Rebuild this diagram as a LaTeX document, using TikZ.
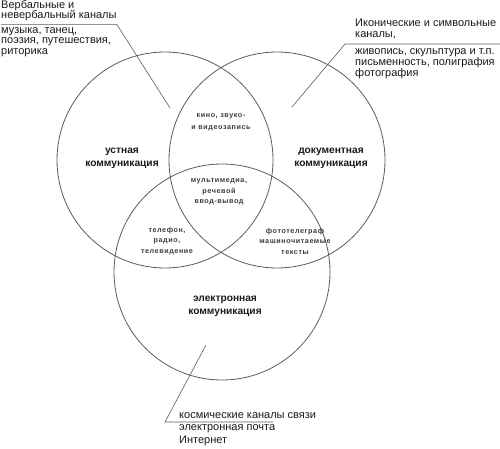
\documentclass[tikz,border=0pt]{standalone}
\usepackage{fontspec}
\setmainfont{Liberation Sans}
\newfontfamily\spacedsans[LetterSpace=8]{Liberation Sans}
\usepackage{xcolor}
\usetikzlibrary{positioning, calc}
\definecolor{ringgray}{HTML}{5C5C5C}
\definecolor{inkdark}{HTML}{1A1A1A}
\tikzset{
  ring/.style={circle, draw=ringgray, line width=0.8pt, minimum size=216pt, inner sep=0pt},
  side/.style={font=\fontsize{11}{10.6}\selectfont, text=inkdark, align=left, inner sep=0pt, anchor=north west},
  zone/.style={font=\fontsize{10.2}{13}\selectfont\bfseries, text=inkdark, align=center, inner sep=0pt},
  cross/.style={font=\spacedsans\fontsize{7.2}{10.5}\selectfont\bfseries, text=inkdark!85, align=center, inner sep=0pt},
  leader/.style={draw=ringgray, line width=0.6pt},
}

\begin{document}
\begin{tikzpicture}[x=1pt, y=-1pt]
  \useasboundingbox (0,0) rectangle (500,449);
  % the three kinds of communication
  \node[ring] (oral) at (165,160) {};
  \node[ring] (docu) at (277,160) {};
  \node[ring] (elec) at (222,272) {};
  \node[zone] (oralT) at (122,158) {устная\\коммуникация};
  \node[zone] (docuT) at (331,158) {документная\\коммуникация};
  \node[zone] (elecT) at (225,306) {электронная\\коммуникация};
  % overlaps
  \node[cross, font=\spacedsans\fontsize{7.2}{12}\selectfont\bfseries] (odX) at (221,122) {кино, звуко-\\и видеозапись};
  \node[cross] (allX) at (219,192) {мультимедиа,\\речевой\\ввод-вывод};
  \node[cross] (oeX) at (167,241) {телефон,\\радио,\\телевидение};
  \node[cross] (deX) at (295,241) {фототелеграф\\машиночитаемые\\тексты};
  % channel notes with leaders
  \node[side] (headL) at (1,0) {Вербальные и\\невербальный каналы};
  \node[side] (listL) at (1,27) {музыка, танец,\\поэзия, путешествия,\\риторика};
  \coordinate (tipL) at (170,108);
  \draw[leader] ([yshift=-3pt]headL.south west) -- ([yshift=-3pt]headL.south east) -- (tipL);
  \node[side] (headR) at (355,19) {Иконические и символьные\\каналы,};
  \node[side, font=\fontsize{11}{9.6}\selectfont] (listR) at (355,48) {живопись, скульптура и т.п.\\письменность, полиграфия\\фотография};
  \coordinate (tipR) at (292,107);
  \coordinate (ulR) at (345,44);
  \coordinate (ulRend) at (500,44);
  \draw[leader] (tipR) -- (ulR) -- (ulRend);
  \node[side, font=\fontsize{11}{12.5}\selectfont] (listB) at (179,412) {космические каналы связи\\электронная почта\\Интернет};
  \coordinate (tipB) at (206,345);
  \coordinate (ulB) at (165,422);
  \coordinate (ulBend) at (273,422);
  \draw[leader] (tipB) -- (ulB) -- (ulBend);
\end{tikzpicture}
\end{document}
